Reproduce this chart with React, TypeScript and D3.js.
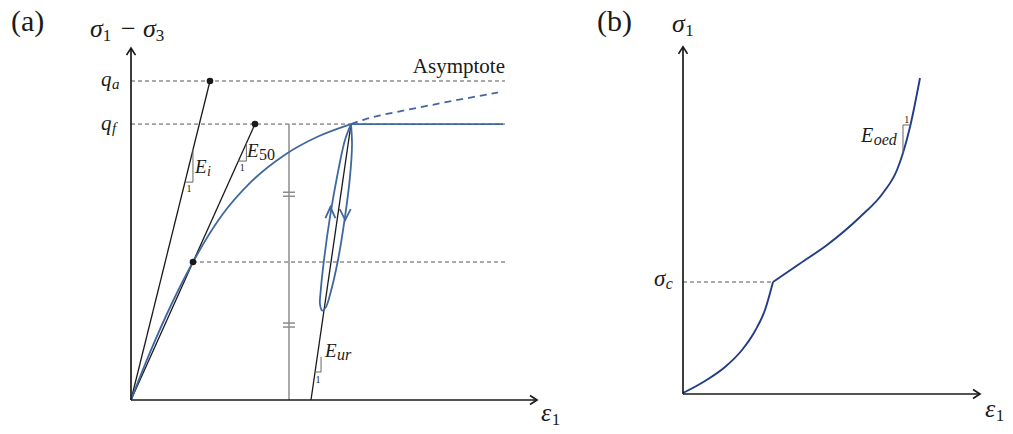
import React from "react";
import * as d3 from "d3";

// ---------- Panel (a): deviatoric stress q = σ1 − σ3 (normalised by q_a) vs. axial strain ----------
const qAsym = 1.0; // asymptotic value q_a
const qFail = 0.865; // failure value q_f
const qHalf = qFail / 2; // 50 % of failure
const epsEiEnd = 0.1975; // strain where the initial tangent reaches q_a
const epsE50End = 0.31; // strain where the secant E50 reaches q_f
const epsHalf = 0.155; // strain at q_f / 2 on the loading curve
const epsUrFoot = 0.45; // unloading/reloading line at q = 0
const epsPeak = 0.55; // strain at failure
const epsFlatEnd = 0.93; // end of the perfectly plastic plateau
const epsGuideEnd = 0.935; // end of the dashed reference levels
const epsGauge = 0.395; // vertical gauge between the E50 and Eur lines
const gaugeTicks = [0.645, 0.235]; // "=" marks on the gauge

const loadingCurve: [number, number][] = [
  [0, 0],
  [0.0475, 0.149],
  [0.1, 0.297],
  [0.155, 0.4325],
  [0.225, 0.575],
  [0.3, 0.6835],
  [0.385, 0.769],
  [0.4675, 0.826],
  [0.55, 0.865],
];

const hyperbolaBranch: [number, number][] = [
  [0.55, 0.865],
  [0.585, 0.88],
  [0.6225, 0.892],
  [0.6725, 0.905],
  [0.7975, 0.936],
  [0.9175, 0.964],
];

// unloading (right side) then reloading (left side) loop
const urLoop: [number, number][] = [
  [0.55, 0.865],
  [0.5525, 0.8],
  [0.5475, 0.7],
  [0.535, 0.574],
  [0.5175, 0.439],
  [0.4975, 0.33],
  [0.4875, 0.292],
  [0.4785, 0.28],
  [0.4725, 0.3],
  [0.4745, 0.345],
  [0.4825, 0.439],
  [0.4975, 0.574],
  [0.515, 0.699],
  [0.535, 0.815],
  [0.55, 0.865],
];
const loopArrowUp: [number, number] = [0.4985, 0.605];
const loopArrowDown: [number, number] = [0.5355, 0.564];

// slope triangles: [q on line, horizontal run]
const triEi = { q: 0.683, run: 0.02 };
const triE50 = { q: 0.749, run: 0.02 };
const triEur = { q: 0.0878, run: 0.015, rise: 0.047 };

// ---------- Panel (b): oedometric σ1 vs. axial strain ----------
const sigmaC = 0.3733;
const preconsolidationCurve: [number, number][] = [
  [0, 0.0033],
  [0.0733, 0.0433],
  [0.14, 0.09],
  [0.1967, 0.1467],
  [0.24, 0.21],
  [0.2733, 0.28],
  [0.3, 0.3733],
];
const virginCurve: [number, number][] = [
  [0.3, 0.3733],
  [0.39, 0.435],
  [0.48, 0.4967],
  [0.59, 0.59],
  [0.6667, 0.67],
  [0.7133, 0.7467],
  [0.7333, 0.8033],
  [0.7567, 0.89],
  [0.79, 1.0533],
];
const triEoed = { eps: 0.7333, sigTop: 0.8967, epsCurve: 0.7583, sigCurve: 0.8033 };

// ---------- scales ----------
const xA = d3.scaleLinear().domain([0, 1]).range([131, 531]);
const yA = d3.scaleLinear().domain([0, 1]).range([400, 81]);
const xB = d3.scaleLinear().domain([0, 1]).range([683, 983]);
const yB = d3.scaleLinear().domain([0, 1]).range([394, 94]);

const axisTopA = 1.103;
const axisRightA = 1.015;
const axisTopB = 1.157;
const axisRightB = 0.99;

const SERIF = "'Liberation Serif', 'DejaVu Serif', serif";
const BLUE_A = "#41689e";
const BLUE_B = "#223d86";
const DASH = "#555";
const GRAY = "#8c8c8c";
const INK = "#1a1a1a";

function chevron(tx: number, ty: number, dir: "up" | "down" | "right", w: number, h: number) {
  if (dir === "up") return `M${tx - w},${ty + h}L${tx},${ty}L${tx + w},${ty + h}`;
  if (dir === "down") return `M${tx - w},${ty - h}L${tx},${ty}L${tx + w},${ty - h}`;
  return `M${tx - h},${ty - w}L${tx},${ty}L${tx - h},${ty + w}`;
}

function Sym({ x, y, base, sub, size, subSize, anchor = "start", subItalic = true, dySub = 4 }: any) {
  return (
    <text x={x} y={y} fontFamily={SERIF} fontSize={size} textAnchor={anchor} fill={INK}>
      <tspan fontStyle="italic">{base}</tspan>
      <tspan fontSize={subSize} dy={dySub} dx={0.5} fontStyle={subItalic ? "italic" : "normal"}>
        {sub}
      </tspan>
    </text>
  );
}

export default function App() {
  const smoothA = d3
    .line<[number, number]>()
    .x((d) => xA(d[0]))
    .y((d) => yA(d[1]))
    .curve(d3.curveMonotoneX);
  const loopA = d3
    .line<[number, number]>()
    .x((d) => xA(d[0]))
    .y((d) => yA(d[1]))
    .curve(d3.curveCatmullRom.alpha(0.5));
  const lineB = d3
    .line<[number, number]>()
    .x((d) => xB(d[0]))
    .y((d) => yB(d[1]))
    .curve(d3.curveMonotoneX);

  // secant/tangent lines
  const eiSlope = epsEiEnd / qAsym; // ε per unit q
  const e50Slope = epsE50End / qFail;
  const eurSlope = (epsPeak - epsUrFoot) / qFail;

  const tri = (eps0: number, q0: number, run: number, qTop: number, xs: any, ys: any) =>
    `M${xs(eps0)},${ys(q0)}L${xs(eps0 + run)},${ys(q0)}L${xs(eps0 + run)},${ys(qTop)}`;

  const eiEps0 = triEi.q * eiSlope;
  const e50Eps0 = triE50.q * e50Slope;
  const eurEps0 = epsUrFoot + triEur.q * eurSlope;

  return (
    <svg
      width={1013}
      height={434}
      viewBox="0 0 1013 434"
      style={{ position: "absolute", left: 0, top: 0, background: "#fff" }}
    >
      <rect x={0} y={0} width={1013} height={434} fill="#fff" />

      {/* ================= Panel (a) ================= */}
      <text x={11} y={31} fontFamily={SERIF} fontSize={30} fill={INK}>
        (a)
      </text>
      <text y={37} fontFamily={SERIF} fontSize={26} fill={INK}>
        <tspan x={90} fontStyle="italic">σ</tspan>
        <tspan fontSize={17} dy={4}>1</tspan>
        <tspan x={121} dy={-4}>−</tspan>
        <tspan x={143} fontStyle="italic">σ</tspan>
        <tspan fontSize={17} dy={4}>3</tspan>
      </text>

      {/* reference levels */}
      <g stroke={DASH} strokeWidth={1} strokeDasharray="4 3" fill="none">
        <line x1={xA(0)} x2={xA(epsGuideEnd)} y1={yA(qAsym)} y2={yA(qAsym)} />
        <line x1={xA(0)} x2={xA(epsGuideEnd)} y1={yA(qFail)} y2={yA(qFail)} />
        <line x1={xA(epsHalf)} x2={xA(epsGuideEnd)} y1={yA(qHalf)} y2={yA(qHalf)} />
      </g>
      <text x={505} y={73} fontFamily={SERIF} fontSize={21} textAnchor="end" fill={INK}>
        Asymptote
      </text>
      <Sym x={101} y={86} base="q" sub="a" size={21} subSize={15} dySub={3} />
      <Sym x={101} y={130} base="q" sub="f" size={21} subSize={15} dySub={3} />

      {/* gauge with "=" marks */}
      <g stroke={GRAY} strokeWidth={1.5}>
        <line x1={xA(epsGauge)} x2={xA(epsGauge)} y1={yA(qFail)} y2={yA(0)} />
        {gaugeTicks.map((q) => (
          <g key={q}>
            <line x1={xA(epsGauge) - 6} x2={xA(epsGauge) + 6} y1={yA(q) - 2} y2={yA(q) - 2} />
            <line x1={xA(epsGauge) - 6} x2={xA(epsGauge) + 6} y1={yA(q) + 2} y2={yA(q) + 2} />
          </g>
        ))}
      </g>

      {/* stiffness lines */}
      <g stroke={INK} strokeWidth={1.3} fill="none">
        <line x1={xA(0)} y1={yA(0)} x2={xA(epsEiEnd)} y2={yA(qAsym)} />
        <line x1={xA(0)} y1={yA(0)} x2={xA(epsE50End)} y2={yA(qFail)} />
        <line x1={xA(epsUrFoot)} y1={yA(0)} x2={xA(epsPeak)} y2={yA(qFail)} />
      </g>
      <g stroke="#666" strokeWidth={1} fill="none">
        <path d={tri(eiEps0, triEi.q, triEi.run, (eiEps0 + triEi.run) / eiSlope, xA, yA)} />
        <path d={tri(e50Eps0, triE50.q, triE50.run, (e50Eps0 + triE50.run) / e50Slope, xA, yA)} />
        <path d={tri(eurEps0, triEur.q, triEur.run, triEur.q + triEur.rise, xA, yA)} />
      </g>
      <text x={xA(eiEps0 + triEi.run / 2)} y={yA(triEi.q) + 10} fontFamily={SERIF} fontSize={10} textAnchor="middle" fill={INK}>1</text>
      <text x={xA(e50Eps0 + triE50.run / 2)} y={yA(triE50.q) + 10} fontFamily={SERIF} fontSize={10} textAnchor="middle" fill={INK}>1</text>
      <text x={xA(eurEps0 + triEur.run / 2)} y={yA(triEur.q) + 11} fontFamily={SERIF} fontSize={10} textAnchor="middle" fill={INK}>1</text>
      <Sym x={195} y={173} base="E" sub="i" size={19} subSize={14} dySub={3} />
      <Sym x={247} y={157} base="E" sub="50" size={19} subSize={16} dySub={3} subItalic={false} />
      <Sym x={325} y={357} base="E" sub="ur" size={19} subSize={16} dySub={3} />

      {/* stress–strain curve */}
      <g fill="none" stroke={BLUE_A} strokeWidth={1.8}>
        <path d={smoothA(loadingCurve) || ""} />
        <line x1={xA(epsPeak)} x2={xA(epsFlatEnd)} y1={yA(qFail)} y2={yA(qFail)} />
        <path d={smoothA(hyperbolaBranch) || ""} strokeDasharray="7 5" />
        <path d={loopA(urLoop) || ""} />
        <path d={chevron(xA(loopArrowUp[0]), yA(loopArrowUp[1]), "up", 5, 11)} />
        <path d={chevron(xA(loopArrowDown[0]), yA(loopArrowDown[1]), "down", 5.5, 11)} />
      </g>

      {/* markers */}
      <g fill={INK}>
        <circle cx={xA(epsEiEnd)} cy={yA(qAsym)} r={3.3} />
        <circle cx={xA(epsE50End)} cy={yA(qFail)} r={3.3} />
        <circle cx={xA(epsHalf)} cy={yA(qHalf)} r={3.3} />
      </g>

      {/* axes */}
      <g stroke={INK} strokeWidth={1.7} fill="none">
        <line x1={xA(0)} y1={yA(0)} x2={xA(0)} y2={yA(axisTopA)} />
        <line x1={xA(0)} y1={yA(0)} x2={xA(axisRightA)} y2={yA(0)} />
        <path d={chevron(xA(0), yA(axisTopA), "up", 4.5, 7)} />
        <path d={chevron(xA(axisRightA), yA(0), "right", 4.5, 7)} />
      </g>
      <Sym x={541} y={421} base="ε" sub="1" size={26} subSize={17} dySub={4} subItalic={false} />

      {/* ================= Panel (b) ================= */}
      <text x={597} y={31} fontFamily={SERIF} fontSize={30} fill={INK}>
        (b)
      </text>
      <Sym x={672} y={32} base="σ" sub="1" size={26} subSize={17} dySub={4} subItalic={false} />

      <line
        x1={xB(0)}
        x2={xB(preconsolidationCurve[preconsolidationCurve.length - 1][0])}
        y1={yB(sigmaC)}
        y2={yB(sigmaC)}
        stroke={DASH}
        strokeWidth={1}
        strokeDasharray="4 3"
      />
      <Sym x={654} y={286} base="σ" sub="c" size={23} subSize={16} dySub={3} />

      <g fill="none" stroke={BLUE_B} strokeWidth={1.9}>
        <path d={lineB(preconsolidationCurve) || ""} />
        <path d={lineB(virginCurve) || ""} />
      </g>

      <path
        d={`M${xB(triEoed.epsCurve)},${yB(triEoed.sigTop)}L${xB(triEoed.eps)},${yB(triEoed.sigTop)}L${xB(triEoed.eps)},${yB(triEoed.sigCurve)}`}
        fill="none"
        stroke="#666"
        strokeWidth={1}
      />
      <text x={xB((triEoed.eps + triEoed.epsCurve) / 2)} y={yB(triEoed.sigTop) - 2} fontFamily={SERIF} fontSize={10} textAnchor="middle" fill={INK}>1</text>
      <Sym x={861} y={142} base="E" sub="oed" size={20} subSize={16} dySub={3} />

      <g stroke={INK} strokeWidth={1.7} fill="none">
        <line x1={xB(0)} y1={yB(0)} x2={xB(0)} y2={yB(axisTopB)} />
        <line x1={xB(0)} y1={yB(0)} x2={xB(axisRightB)} y2={yB(0)} />
        <path d={chevron(xB(0), yB(axisTopB), "up", 4.5, 7)} />
        <path d={chevron(xB(axisRightB), yB(0), "right", 4.5, 7)} />
      </g>
      <Sym x={985} y={417} base="ε" sub="1" size={26} subSize={17} dySub={4} subItalic={false} />
    </svg>
  );
}
